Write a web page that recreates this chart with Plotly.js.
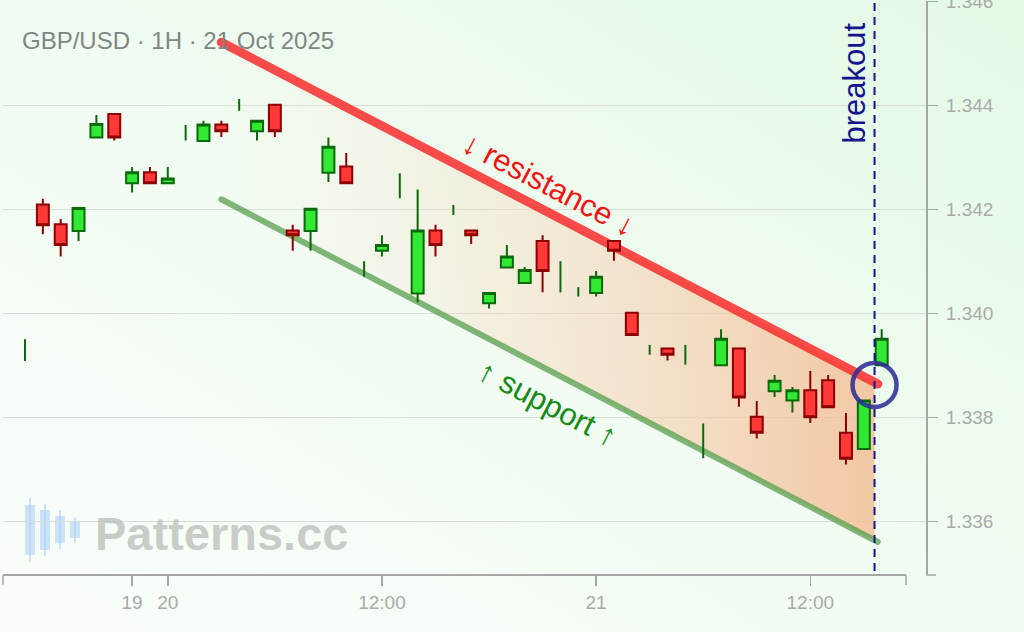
<!DOCTYPE html>
<html>
<head>
<meta charset="utf-8">
<script src="https://cdn.plot.ly/plotly-3.0.1.min.js"></script>
<style>
html,body{margin:0;padding:0;}
#chart{width:1024px;height:632px;background:linear-gradient(to top right,#fafefa 0%,#f1fcf2 50%,#e3f9e4 100%);}
#chart .scatterlayer .js-line{stroke-linecap:round;}
</style>
</head>
<body>
<div id="chart"></div>
<script>
// ---- data ----
const times = [
 '2025-10-17 16:00','2025-10-17 17:00','2025-10-17 18:00','2025-10-17 19:00','2025-10-17 20:00','2025-10-17 21:00',
 '2025-10-19 22:00','2025-10-19 23:00',
 '2025-10-20 00:00','2025-10-20 01:00','2025-10-20 02:00','2025-10-20 03:00','2025-10-20 04:00','2025-10-20 05:00',
 '2025-10-20 06:00','2025-10-20 07:00','2025-10-20 08:00','2025-10-20 09:00','2025-10-20 10:00','2025-10-20 11:00',
 '2025-10-20 12:00','2025-10-20 13:00','2025-10-20 14:00','2025-10-20 15:00','2025-10-20 16:00','2025-10-20 17:00',
 '2025-10-20 18:00','2025-10-20 19:00','2025-10-20 20:00','2025-10-20 21:00','2025-10-20 22:00','2025-10-20 23:00',
 '2025-10-21 00:00','2025-10-21 01:00','2025-10-21 02:00','2025-10-21 03:00','2025-10-21 04:00','2025-10-21 05:00',
 '2025-10-21 06:00','2025-10-21 07:00','2025-10-21 08:00','2025-10-21 09:00','2025-10-21 10:00','2025-10-21 11:00',
 '2025-10-21 12:00','2025-10-21 13:00','2025-10-21 14:00','2025-10-21 15:00','2025-10-21 16:00'
];
const open = [
 1.33930,1.34210,1.34172,1.34159,1.34339,1.34384,
 1.34251,1.34272,
 1.34251,1.34348,1.34332,1.34364,1.34401,1.34351,
 1.34402,1.34160,1.34159,1.34271,1.34283,1.34086,
 1.34121,1.34246,1.34039,1.34160,1.34200,1.34160,
 1.34020,1.34089,1.34059,1.34140,1.34071,1.34042,
 1.34040,1.34140,1.34002,1.33930,1.33933,1.33921,
 1.33755,1.33901,1.33933,1.33802,1.33851,1.33833,
 1.33853,1.33872,1.33771,1.33740,1.33901
];
const high = [
 1.33951,1.34221,1.34182,1.34203,1.34382,1.34384,
 1.34282,1.34282,
 1.34282,1.34363,1.34371,1.34371,1.34413,1.34371,
 1.34402,1.34171,1.34202,1.34339,1.34309,1.34101,
 1.34151,1.34270,1.34239,1.34171,1.34209,1.34160,
 1.34040,1.34132,1.34090,1.34151,1.34101,1.34051,
 1.34082,1.34140,1.34002,1.33940,1.33933,1.33940,
 1.33789,1.33970,1.33933,1.33832,1.33882,1.33859,
 1.33890,1.33882,1.33809,1.33833,1.33970
];
const low = [
 1.33909,1.34153,1.34110,1.34140,1.34339,1.34333,
 1.34233,1.34251,
 1.34251,1.34333,1.34332,1.34340,1.34390,1.34333,
 1.34340,1.34121,1.34121,1.34253,1.34251,1.34071,
 1.34110,1.34222,1.34022,1.34110,1.34190,1.34134,
 1.34010,1.34089,1.34059,1.34041,1.34041,1.34033,
 1.34033,1.34102,1.33959,1.33921,1.33910,1.33902,
 1.33722,1.33901,1.33821,1.33760,1.33840,1.33810,
 1.33790,1.33820,1.33710,1.33740,1.33901
];
const close = [
 1.33930,1.34170,1.34132,1.34203,1.34365,1.34339,
 1.34272,1.34251,
 1.34260,1.34348,1.34364,1.34351,1.34401,1.34371,
 1.34351,1.34151,1.34202,1.34321,1.34251,1.34086,
 1.34132,1.34246,1.34160,1.34132,1.34200,1.34151,
 1.34040,1.34110,1.34084,1.34082,1.34071,1.34042,
 1.34071,1.34121,1.33959,1.33930,1.33921,1.33921,
 1.33755,1.33952,1.33839,1.33771,1.33871,1.33853,
 1.33801,1.33820,1.33721,1.33833,1.33952
];
const resistanceT = ['2025-10-20 03:00','2025-10-21 15:47'];
const resistanceP = [1.34522,1.33865];
const supportT = ['2025-10-20 03:00','2025-10-21 15:47'];
const supportP = [1.34220,1.33561];
const breakoutT = '2025-10-21 15:36';
const breakoutP = 1.33863;
const weekendBreak = ['2025-10-17 22:00','2025-10-19 22:00'];
const xTickVals = ['2025-10-19 22:00','2025-10-20 00:00','2025-10-20 12:00','2025-10-21 00:00','2025-10-21 12:00'];
const xTickText = ['19','20','12:00','21','12:00'];
const yTickVals = [1.336,1.338,1.340,1.342,1.344,1.346];
const titleText = 'GBP/USD · 1H · 21 Oct 2025';

// ---- helpers ----
const ms = s => new Date(s.replace(' ','T')+':00Z').getTime();
function lineAt(ts, ps, t){
  const a = ms(ts[0]), b = ms(ts[1]), f = (ms(t)-a)/(b-a);
  return ps[0] + f*(ps[1]-ps[0]);
}
const isDoji = open.map((o,i)=>o===close[i]);
const pick = (arr, keep) => arr.filter((_,i)=>isDoji[i]===keep);

// plot area in px: x 3..926, y 1..575
const PX0=3, PW=923, PY1=575, PH=574;
const fx = px => (px-PX0)/PW;
const fy = py => (PY1-py)/PH;

const xRange = ['2025-10-17 14:46','2025-10-21 18:29'];
const yRange = [1.334975,1.346013];
const GREEN_LINE = '#0a6a0a', RED_LINE = '#8b0000';

const traces = [
  { // channel fill
    type:'scatter', xaxis:'x', yaxis:'y',
    x:[resistanceT[0], breakoutT, breakoutT, supportT[0]],
    y:[resistanceP[0], lineAt(resistanceT,resistanceP,breakoutT), lineAt(supportT,supportP,breakoutT), supportP[0]],
    mode:'none', fill:'toself',
    fillgradient:{type:'horizontal', colorscale:[[0,'rgba(250,236,222,0.05)'],[1,'rgba(243,190,150,0.85)']]},
    hoverinfo:'skip'
  },
  { type:'scatter', xaxis:'x', yaxis:'y', x:supportT, y:supportP, mode:'lines',
    line:{color:'rgba(80,155,70,0.72)', width:6}, hoverinfo:'skip' },
  { type:'scatter', xaxis:'x', yaxis:'y', x:resistanceT, y:resistanceP, mode:'lines',
    line:{color:'rgba(248,45,45,0.85)', width:9}, hoverinfo:'skip' },
  { type:'candlestick', xaxis:'x2', yaxis:'y2',
    x:pick(times,false), open:pick(open,false), high:pick(high,false), low:pick(low,false), close:pick(close,false),
    increasing:{fillcolor:'#33e833', line:{color:GREEN_LINE, width:2}},
    decreasing:{fillcolor:'#ff3838', line:{color:RED_LINE, width:2}},
    whiskerwidth:0, hoverinfo:'skip' },
  { type:'ohlc', xaxis:'x2', yaxis:'y2',
    x:pick(times,true), open:pick(open,true), high:pick(high,true), low:pick(low,true), close:pick(close,true),
    increasing:{line:{color:GREEN_LINE, width:2}}, decreasing:{line:{color:GREEN_LINE, width:2}},
    tickwidth:0, hoverinfo:'skip' }
];

const xCommon = () => ({type:'date', range:xRange.slice(), rangebreaks:[{bounds:weekendBreak.slice()}], fixedrange:true, rangeslider:{visible:false}});
const axisGrey = '#a6a6a6';

const shapes = [
  // x axis line with outer ticks (ends at px 906)
  {type:'line', xref:'paper', yref:'paper', x0:0, x1:fx(906), y0:0, y1:0, line:{color:axisGrey, width:2}, layer:'above'},
  {type:'line', xref:'paper', x0:0, x1:0, yref:'paper', ysizemode:'pixel', yanchor:0, y0:0, y1:-10, line:{color:axisGrey, width:1.5}, layer:'above'},
  {type:'line', xref:'paper', x0:fx(906), x1:fx(906), yref:'paper', ysizemode:'pixel', yanchor:0, y0:0, y1:-10, line:{color:axisGrey, width:1.5}, layer:'above'},
  {type:'line', yref:'paper', y0:0, y1:0, xref:'paper', xsizemode:'pixel', xanchor:1, x0:0, x1:10, line:{color:axisGrey, width:1.5}, layer:'above'},
  // breakout dashed line
  {type:'line', xref:'x', x0:breakoutT, x1:breakoutT, yref:'paper', y0:fy(571), y1:1,
   line:{color:'#14148c', width:2, dash:'8px,6px'}, layer:'above'},
  // breakout circle
  {type:'circle', xref:'x', xsizemode:'pixel', xanchor:breakoutT, x0:-22, x1:22,
   yref:'y', ysizemode:'pixel', yanchor:breakoutP, y0:-22, y1:22,
   line:{color:'rgba(45,45,150,0.88)', width:4.5}, layer:'above'}
];
// watermark logo candles (decorative)
const logoColor = 'rgba(168,204,246,0.55)';
[[30,498,505,555,562],[45,504,510,550,556],[60,510,516,543,549],[75,517,522,538,543]].forEach(c=>{
  shapes.push({type:'line', xref:'paper', yref:'paper', x0:fx(c[0]), x1:fx(c[0]), y0:fy(c[1]), y1:fy(c[4]), line:{color:logoColor, width:2}, layer:'below'});
  shapes.push({type:'rect', xref:'paper', yref:'paper', x0:fx(c[0]-5), x1:fx(c[0]+5), y0:fy(c[2]), y1:fy(c[3]), fillcolor:logoColor, line:{width:0}, layer:'below'});
});

const annotations = [
  {text:titleText, xref:'paper', yref:'paper', x:fx(20), y:fy(40.5), xanchor:'left', yanchor:'middle', showarrow:false,
   font:{size:24, color:'#7e8782'}},
  {text:'<b>Patterns.cc</b>', xref:'paper', yref:'paper', x:fx(93), y:fy(533), xanchor:'left', yanchor:'middle', showarrow:false,
   font:{size:47, color:'rgba(185,185,185,0.72)'}},
  {text:'breakout', xref:'x', x:breakoutT, xshift:-21, yref:'paper', y:fy(83), xanchor:'center', yanchor:'middle', textangle:-90, showarrow:false,
   font:{size:31, color:'#14148c'}},
  {text:'↓ resistance ↓', xref:'x', yref:'y', x:'2025-10-20 21:20', y:1.34249, textangle:27.5, showarrow:false,
   font:{size:31, color:'#ee1515'}},
  {text:'↑ support ↑', xref:'x', yref:'y', x:'2025-10-20 21:18', y:1.33828, textangle:27.5, showarrow:false,
   font:{size:31, color:'#158a15'}}
];

const layout = {
  width:1024, height:632,
  margin:{l:PX0, r:1024-PX0-PW, t:PY1-PH, b:632-PY1, pad:0},
  paper_bgcolor:'rgba(0,0,0,0)', plot_bgcolor:'rgba(0,0,0,0)',
  showlegend:false, hovermode:false, dragmode:false,
  boxgap:0.33, boxgroupgap:0,
  font:{family:'"Liberation Sans", Arial, sans-serif', color:'#aaaaaa'},
  xaxis:Object.assign(xCommon(), {
    tickmode:'array', tickvals:xTickVals, ticktext:xTickText,
    ticks:'outside', ticklen:10, tickwidth:1.5, tickcolor:axisGrey,
    showgrid:false, showline:false, zeroline:false,
    tickfont:{size:19, color:'#aaaaaa'}
  }),
  xaxis2:Object.assign(xCommon(), {overlaying:'x', matches:'x', showticklabels:false, ticks:'', showgrid:false, showline:false, zeroline:false}),
  yaxis:{
    side:'right', range:yRange, fixedrange:true,
    tickmode:'array', tickvals:yTickVals, tickformat:'.3f',
    ticks:'outside', ticklen:10, tickwidth:1.5, tickcolor:axisGrey,
    showline:true, linecolor:axisGrey, linewidth:2,
    showgrid:true, gridcolor:'#d9ddd9', gridwidth:1.5, zeroline:false,
    tickfont:{size:19, color:'#aaaaaa'}, ticklabelstandoff:4, ticklabeloverflow:'allow'
  },
  yaxis2:{overlaying:'y', range:yRange.slice(), showticklabels:false, ticks:'', showgrid:false, showline:false, zeroline:false, fixedrange:true},
  shapes:shapes,
  annotations:annotations
};

Plotly.newPlot('chart', traces, layout, {displayModeBar:false, staticPlot:true});
</script>
</body>
</html>
